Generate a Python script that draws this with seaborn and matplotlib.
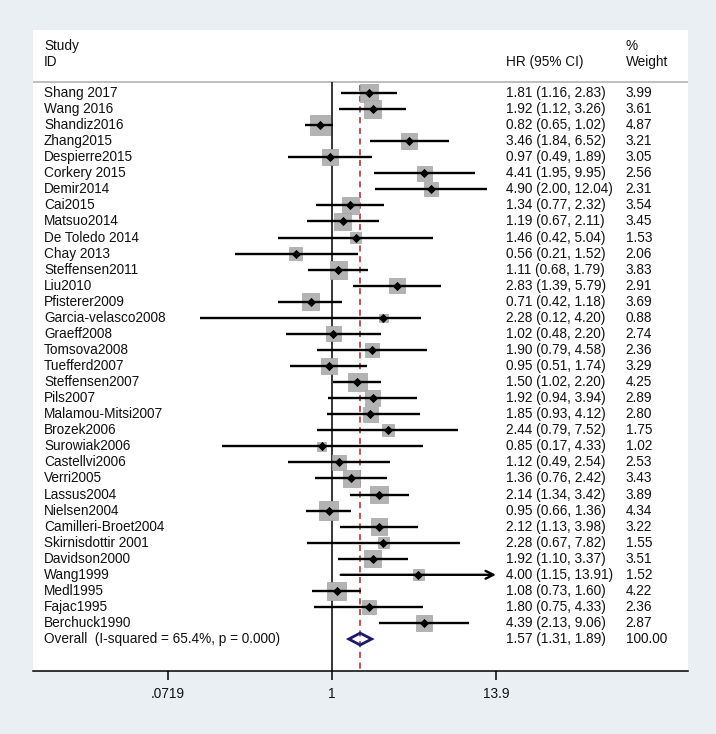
import numpy as np
import pandas as pd
import matplotlib.pyplot as plt
import matplotlib.transforms as mtransforms
import seaborn as sns

plt.rcParams['font.family'] = ['Liberation Sans', 'DejaVu Sans']

# Study data (HR, 95% CI, % weight)
studies = ['Shang 2017', 'Wang 2016', 'Shandiz2016', 'Zhang2015', 'Despierre2015',
           'Corkery 2015', 'Demir2014', 'Cai2015', 'Matsuo2014', 'De Toledo 2014',
           'Chay 2013', 'Steffensen2011', 'Liu2010', 'Pfisterer2009', 'Garcia-velasco2008',
           'Graeff2008', 'Tomsova2008', 'Tuefferd2007', 'Steffensen2007', 'Pils2007',
           'Malamou-Mitsi2007', 'Brozek2006', 'Surowiak2006', 'Castellvi2006', 'Verri2005',
           'Lassus2004', 'Nielsen2004', 'Camilleri-Broet2004', 'Skirnisdottir 2001',
           'Davidson2000', 'Wang1999', 'Medl1995', 'Fajac1995', 'Berchuck1990']
hr = [1.81, 1.92, 0.82, 3.46, 0.97, 4.41, 4.90, 1.34, 1.19, 1.46, 0.56, 1.11, 2.83,
      0.71, 2.28, 1.02, 1.90, 0.95, 1.50, 1.92, 1.85, 2.44, 0.85, 1.12, 1.36, 2.14,
      0.95, 2.12, 2.28, 1.92, 4.00, 1.08, 1.80, 4.39]
ci_low = [1.16, 1.12, 0.65, 1.84, 0.49, 1.95, 2.00, 0.77, 0.67, 0.42, 0.21, 0.68, 1.39,
          0.42, 0.12, 0.48, 0.79, 0.51, 1.02, 0.94, 0.93, 0.79, 0.17, 0.49, 0.76, 1.34,
          0.66, 1.13, 0.67, 1.10, 1.15, 0.73, 0.75, 2.13]
ci_high = [2.83, 3.26, 1.02, 6.52, 1.89, 9.95, 12.04, 2.32, 2.11, 5.04, 1.52, 1.79, 5.79,
           1.18, 4.20, 2.20, 4.58, 1.74, 2.20, 3.94, 4.12, 7.52, 4.33, 2.54, 2.42, 3.42,
           1.36, 3.98, 7.82, 3.37, 13.91, 1.60, 4.33, 9.06]
weights = [3.99, 3.61, 4.87, 3.21, 3.05, 2.56, 2.31, 3.54, 3.45, 1.53, 2.06, 3.83, 2.91,
           3.69, 0.88, 2.74, 2.36, 3.29, 4.25, 2.89, 2.80, 1.75, 1.02, 2.53, 3.43, 3.89,
           4.34, 3.22, 1.55, 3.51, 1.52, 4.22, 2.36, 2.87]

overall_label = 'Overall  (I-squared = 65.4%, p = 0.000)'
overall_hr, overall_low, overall_high = 1.57, 1.31, 1.89
overall_weight = 100.00

tick_vals = [0.0719, 1, 13.9]
tick_labels = ['.0719', '1', '13.9']

df = pd.DataFrame({'study': studies, 'hr': hr, 'low': ci_low,
                   'high': ci_high, 'weight': weights})
df['row'] = np.arange(len(df))
x_max = tick_vals[-1]

# ---- figure ----
fig = plt.figure(figsize=(7.16, 7.34), dpi=100)
fig.patch.set_facecolor('#e9eff2')
ax = fig.add_axes([33 / 716, 1 - 671 / 734, 655 / 716, 641 / 734])
ax.set_facecolor('white')

ax.set_xscale('log')
ax.set_xlim(0.00824, 303)
ax.set_ylim(35.99, -3.923)
n = len(df)
sep_y = -0.685

# reference lines
ax.axhline(sep_y, color='#b9b9b9', lw=1.3, zorder=1)
ax.vlines(1, sep_y, 35.99, color='black', lw=1.1, zorder=1)
ax.vlines(overall_hr, -0.5, 35.99, color='#a8262a', lw=1.1,
          linestyles=(0, (4, 3)), zorder=1)

# weight boxes
k = 42.6
sns.scatterplot(data=df, x='hr', y='row', size='weight',
                sizes=(k * df['weight'].min(), k * df['weight'].max()),
                size_norm=(df['weight'].min(), df['weight'].max()),
                marker='s', color='#b3b3b3', edgecolor='#a4a4a4', linewidth=0.5,
                legend=False, ax=ax, zorder=2)

# confidence intervals
inside = df[df['high'] <= x_max]
ax.hlines(inside['row'], inside['low'], inside['high'], color='black', lw=1.7, zorder=3)
for _, r in df[df['high'] > x_max].iterrows():
    ax.annotate('', xy=(x_max, r['row']), xytext=(r['low'], r['row']),
                arrowprops=dict(arrowstyle='->', color='black', lw=1.7,
                                mutation_scale=14, shrinkA=0, shrinkB=0), zorder=3)

# point estimates
sns.scatterplot(data=df, x='hr', y='row', marker='D', color='black', s=22,
                linewidth=0, legend=False, ax=ax, zorder=4)

# overall diamond
h = 0.37
ax.fill([overall_low, overall_hr, overall_high, overall_hr],
        [n, n - h, n, n + h], facecolor='none', edgecolor='#1b1b6b', lw=2.0, zorder=4)

# text columns
trans = mtransforms.blended_transform_factory(ax.transAxes, ax.transData)
fs = 9.8
tc = '#111111'
x_id, x_ci, x_w = 0.0168, 0.722, 0.905
ax.text(x_id, -2.93, 'Study', transform=trans, va='center', fontsize=fs, color=tc)
ax.text(x_id, -1.93, 'ID', transform=trans, va='center', fontsize=fs, color=tc)
ax.text(x_ci, -1.93, 'HR (95% CI)', transform=trans, va='center', fontsize=fs, color=tc)
ax.text(x_w, -2.93, '%', transform=trans, va='center', fontsize=fs, color=tc)
ax.text(x_w, -1.93, 'Weight', transform=trans, va='center', fontsize=fs, color=tc)

for _, r in df.iterrows():
    ax.text(x_id, r['row'], r['study'], transform=trans, va='center', fontsize=fs, color=tc)
    ax.text(x_ci, r['row'], f"{r['hr']:.2f} ({r['low']:.2f}, {r['high']:.2f})",
            transform=trans, va='center', fontsize=fs, color=tc)
    ax.text(x_w, r['row'], f"{r['weight']:.2f}", transform=trans, va='center',
            fontsize=fs, color=tc)

ax.text(x_id, n, overall_label, transform=trans, va='center', fontsize=fs, color=tc)
ax.text(x_ci, n, f"{overall_hr:.2f} ({overall_low:.2f}, {overall_high:.2f})",
        transform=trans, va='center', fontsize=fs, color=tc)
ax.text(x_w, n, f"{overall_weight:.2f}", transform=trans, va='center', fontsize=fs, color=tc)

# axes styling
for side in ['top', 'left', 'right']:
    ax.spines[side].set_visible(False)
ax.spines['bottom'].set_color('black')
ax.spines['bottom'].set_linewidth(1.1)
ax.set_yticks([])
ax.set_xticks(tick_vals)
ax.set_xticklabels(tick_labels)
ax.minorticks_off()
ax.tick_params(axis='x', length=6.5, width=1.1, pad=5, labelsize=fs, labelcolor=tc)
ax.set_xlabel('')
ax.set_ylabel('')

fig.savefig('out.png', dpi=100, facecolor=fig.get_facecolor())
